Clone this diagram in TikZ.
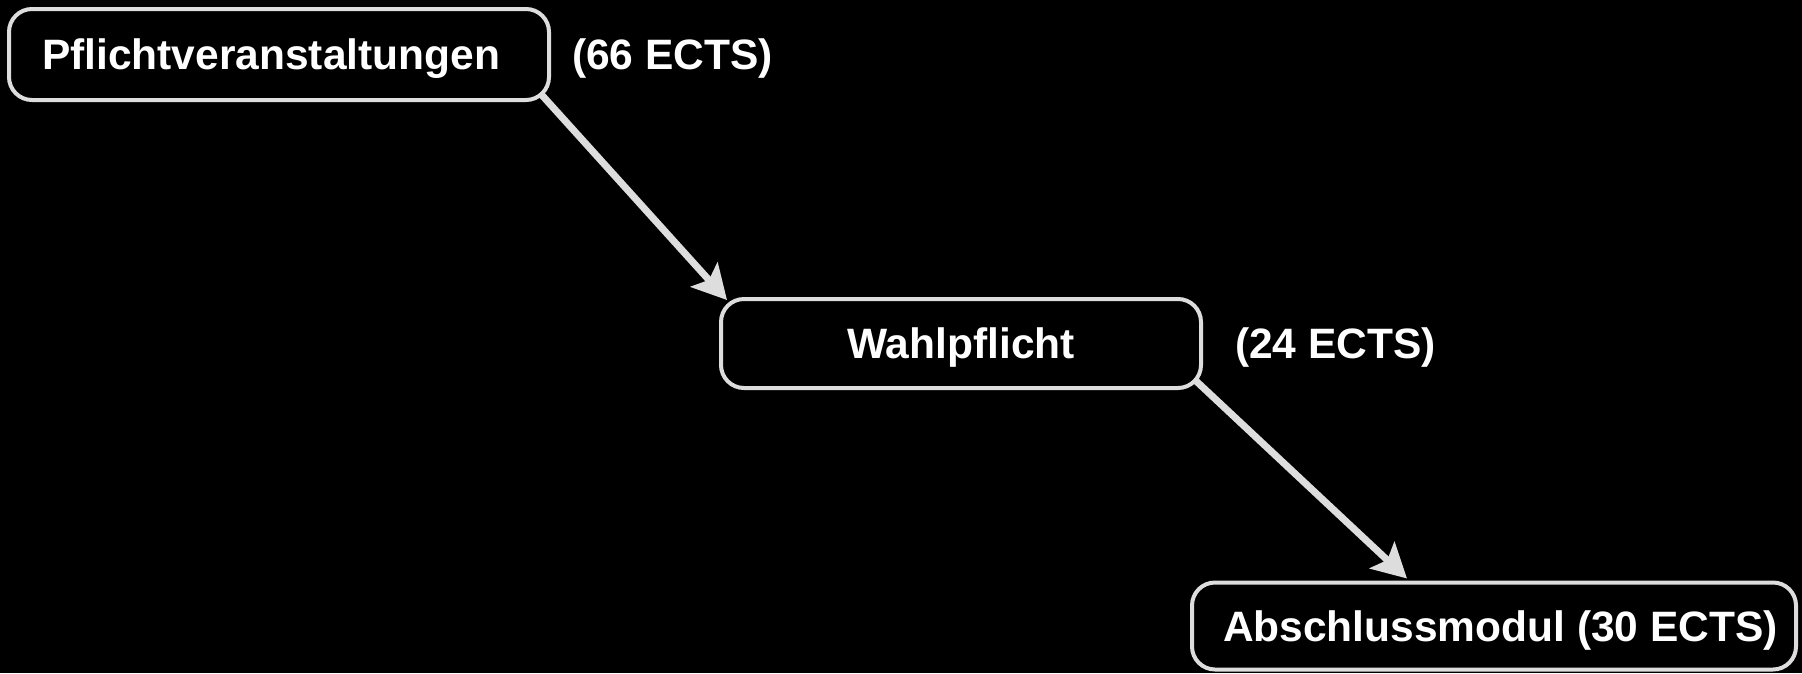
\documentclass[tikz,border=0pt]{standalone}
\usepackage{fontspec}
\setmainfont{Liberation Sans}
\usetikzlibrary{arrows.meta}
\definecolor{edgegray}{RGB}{221,221,221}
\begin{document}
\begin{tikzpicture}[x=1pt,y=-1pt,
  box/.style={draw=edgegray, line width=4pt, rounded corners=23pt, fill=black,
    text=white, font=\fontsize{42.5}{50}\selectfont\bfseries,
    text height=30.5pt, text depth=0pt, inner ysep=0pt},
  lbl/.style={text=white, font=\fontsize{42.5}{50}\selectfont\bfseries,
    text height=30.5pt, text depth=0pt, inner sep=0pt, anchor=west},
  conn/.style={draw=edgegray, line width=7pt,
    -{Stealth[length=34pt,width=36pt,inset=7pt]}}]
\fill[black] (0,0) rectangle (1802,673);
\useasboundingbox (0,0) rectangle (1802,673);

\node[box, minimum width=540pt, minimum height=91pt]
  (b1) at (279,54.5) {\makebox[474pt][l]{Pflichtveranstaltungen}};
\node[lbl] (l1) at (572,54.5) {(66 ECTS)};

\node[box, minimum width=480pt, minimum height=89pt] (b2) at (961,343.5) {Wahlpflicht};
\node[lbl] (l2) at (1235,343.5) {(24 ECTS)};

\node[box, minimum width=604pt, minimum height=87pt]
  (b3) at (1494,626) {\makebox[542pt][l]{Abschlussmodul (30 ECTS)}};

\draw[conn] ([xshift=-11pt,yshift=9pt]b1.south east) -- ([xshift=8pt,yshift=-3pt]b2.north west);
\draw[conn] ([xshift=-8pt,yshift=10pt]b2.south east) -- ([xshift=217pt,yshift=2pt]b3.north west);
\end{tikzpicture}
\end{document}
